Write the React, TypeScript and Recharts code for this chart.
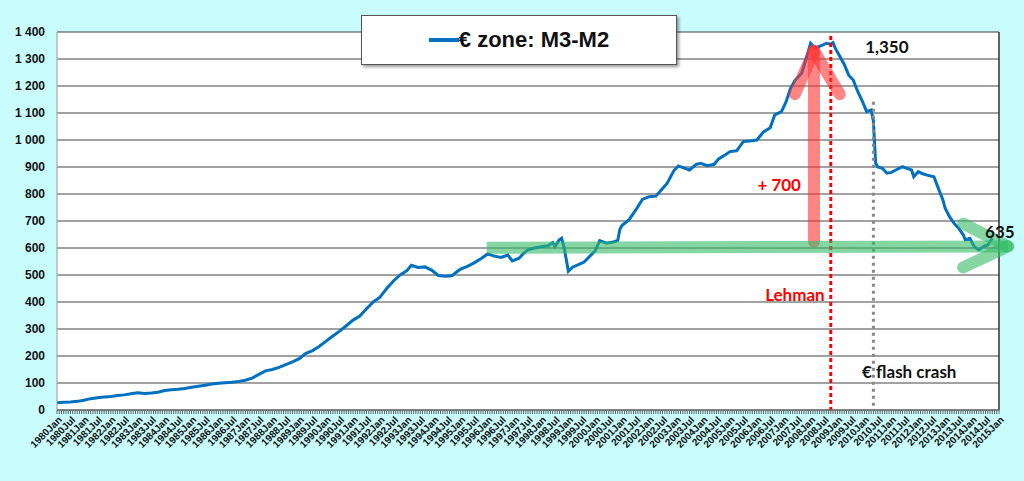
import React from 'react'
import { LineChart, Line, XAxis, YAxis, CartesianGrid, ReferenceLine, ReferenceDot } from 'recharts'

const obsDates = [
  '1980-01', '1980-04', '1980-07', '1980-10', '1981-01', '1981-04', '1981-07', '1981-10',
  '1982-01', '1982-04', '1982-07', '1982-10', '1983-01', '1983-04', '1983-07', '1983-10',
  '1984-01', '1984-04', '1984-07', '1984-10', '1985-01', '1985-04', '1985-07', '1985-10',
  '1986-01', '1986-04', '1986-07', '1986-10', '1987-01', '1987-04', '1987-07', '1987-10',
  '1988-01', '1988-04', '1988-07', '1988-10', '1989-01', '1989-04', '1989-07', '1989-10',
  '1990-01', '1990-04', '1990-07', '1990-10', '1991-01', '1991-04', '1991-07', '1991-10',
  '1992-01', '1992-04', '1992-07', '1992-10', '1993-01', '1993-03', '1993-06', '1993-09',
  '1993-12', '1994-03', '1994-06', '1994-09', '1994-11', '1995-01', '1995-04', '1995-07',
  '1995-10', '1996-01', '1996-04', '1996-07', '1996-10', '1996-12', '1997-03', '1997-05',
  '1997-07', '1997-10', '1998-01', '1998-04', '1998-06', '1998-07', '1998-09', '1998-10',
  '1998-11', '1998-12', '1999-01', '1999-03', '1999-05', '1999-08', '1999-10', '2000-01',
  '2000-03', '2000-06', '2000-09', '2000-11', '2000-12', '2001-01', '2001-04', '2001-07',
  '2001-10', '2002-01', '2002-04', '2002-07', '2002-09', '2002-12', '2003-02', '2003-05',
  '2003-07', '2003-10', '2003-12', '2004-03', '2004-06', '2004-08', '2004-11', '2005-01',
  '2005-04', '2005-07', '2005-10', '2006-01', '2006-04', '2006-07', '2006-09', '2006-12',
  '2007-02', '2007-04', '2007-06', '2007-09', '2007-11', '2008-01', '2008-03', '2008-06',
  '2008-08', '2008-10', '2008-11', '2008-12', '2009-02', '2009-04', '2009-06', '2009-08',
  '2009-10', '2009-12', '2010-02', '2010-04', '2010-05', '2010-06', '2010-07', '2010-09',
  '2010-11', '2011-01', '2011-03', '2011-06', '2011-08', '2011-10', '2011-11', '2012-01',
  '2012-03', '2012-05', '2012-08', '2012-10', '2012-12', '2013-01', '2013-03', '2013-05',
  '2013-07', '2013-09', '2013-10', '2013-12', '2014-02', '2014-04', '2014-06', '2014-08',
  '2014-10',
]

const m3m2 = [
  27, 29, 30, 32, 36, 42, 45, 48,
  50, 54, 56, 60, 64, 61, 63, 66,
  72, 75, 77, 80, 84, 88, 92, 96,
  99, 101, 103, 106, 110, 118, 132, 145,
  150, 158, 168, 178, 190, 210, 220, 236,
  255, 274, 292, 312, 333, 348, 375, 400,
  418, 450, 478, 500, 516, 536, 528, 530,
  518, 498, 495, 497, 510, 522, 532, 545,
  560, 578, 570, 565, 574, 552, 562, 580,
  593, 600, 605, 608, 620, 606, 630, 636,
  605, 560, 514, 530, 537, 548, 565, 590,
  627, 618, 622, 628, 670, 684, 704, 740,
  780, 790, 792, 820, 839, 886, 904, 895,
  889, 910, 914, 905, 910, 930, 945, 957,
  960, 994, 996, 1000, 1030, 1045, 1093, 1105,
  1140, 1190, 1220, 1247, 1300, 1358, 1340, 1350,
  1358, 1355, 1360, 1340, 1310, 1280, 1240, 1222,
  1180, 1145, 1105, 1111, 1070, 914, 900, 895,
  877, 880, 889, 901, 895, 889, 864, 883,
  875, 870, 864, 820, 778, 747, 715, 691,
  673, 650, 630, 636, 605, 593, 605, 611,
  636,
]

const firstYear = 1980
const lastYear = 2015
const halfNames = ['Jan', 'Jul']
const yTicks = [0, 100, 200, 300, 400, 500, 600, 700, 800, 900, 1000, 1100, 1200, 1300, 1400]

const toMonth = (d: string) => {
  const [y, m] = d.split('-').map(Number)
  return (y - firstYear) * 12 + (m - 1)
}

const data = obsDates.map((d, i) => ({ m: toMonth(d), v: m3m2[i] }))
const lastMonth = (lastYear - firstYear) * 12
const monthTicks = Array.from({ length: lastMonth + 1 }, (_, i) => i)
const tickLabel = (m: number) => `${firstYear + Math.floor(m / 12)}${halfNames[(m % 12) / 6]}`

const BLUE = '#0070c0'
const BG = '#c9fcfd'
const AXIS_FONT = '"Liberation Sans", Arial, sans-serif'
const NOTE_FONT = 'Lato, "Liberation Sans", sans-serif'

const fmtY = (v: number) =>
  v >= 1000 ? `${Math.floor(v / 1000)} ${String(v % 1000).padStart(3, '0')}` : String(v)

const XTick = (props: any) => {
  const { x, y, payload } = props
  if (payload.value % 6 !== 0) return null
  return (
    <text
      x={x + 3}
      y={y + 2}
      transform={`rotate(-45, ${x + 3}, ${y + 2})`}
      textAnchor="end"
      dy="0.35em"
      fontSize={10}
      fontWeight="bold"
      fontFamily={AXIS_FONT}
      fill="#111"
    >
      {tickLabel(payload.value)}
    </text>
  )
}

const note = (text: string, color: string, size = 17) => ({
  content: (p: any) => {
    const vb = p.viewBox || {}
    const cx = (vb.x || 0) + (vb.width || 0) / 2
    const cy = (vb.y || 0) + (vb.height || 0) / 2
    return (
      <text x={cx} y={cy} dy="0.35em" textAnchor="middle" fontSize={size} fontWeight="bold" fontFamily={NOTE_FONT} fill={color}>
        {text}
      </text>
    )
  },
})

const RED_ARROW = { stroke: '#ff3333', strokeOpacity: 0.6, strokeWidth: 12, strokeLinecap: 'round' as const }
const GREEN_ARROW = { stroke: '#33bb66', strokeOpacity: 0.6, strokeWidth: 12, strokeLinecap: 'round' as const }

export default function App() {
  return (
    <div style={{ position: 'absolute', left: 0, top: 0, width: 1024, height: 481, background: BG }}>
      <LineChart width={1024} height={481} data={data} margin={{ top: 32, right: 25, bottom: 0, left: 0 }}>
        <CartesianGrid vertical={false} stroke="#444" fill="#fff" fillOpacity={1} />
        <XAxis
          dataKey="m"
          type="number"
          domain={[0, lastMonth]}
          ticks={monthTicks}
          interval={0}
          height={71}
          tickSize={4}
          tickMargin={2}
          stroke="#666"
          tick={<XTick />}
        />
        <YAxis
          domain={[0, 1400]}
          ticks={yTicks}
          width={57}
          tickSize={0}
          tickMargin={12}
          stroke="#999"
          tickFormatter={fmtY}
          tick={{ fontSize: 12, fontWeight: 'bold', fontFamily: AXIS_FONT, fill: '#111' }}
        />
        <ReferenceLine x={lastMonth} stroke="#333" strokeWidth={1.5} />

        <Line type="linear" dataKey="v" stroke={BLUE} strokeWidth={3} dot={false} isAnimationActive={false} />

        {/* Lehman and flash crash markers */}
        <ReferenceLine segment={[{ x: 345, y: 1385 }, { x: 345, y: 0 }]} stroke="#ff0000" strokeWidth={3} strokeDasharray="4 3" />
        <ReferenceLine segment={[{ x: 364, y: 1142 }, { x: 364, y: 0 }]} stroke="#888" strokeWidth={3} strokeDasharray="3 4" />

        {/* red "+700" arrow */}
        <ReferenceLine segment={[{ x: 337.5, y: 623 }, { x: 337.5, y: 1330 }]} {...RED_ARROW} />
        <ReferenceLine segment={[{ x: 337.5, y: 1330 }, { x: 329, y: 1170 }]} {...RED_ARROW} />
        <ReferenceLine segment={[{ x: 337.5, y: 1330 }, { x: 349, y: 1170 }]} {...RED_ARROW} />

        {/* green level arrow */}
        <ReferenceLine segment={[{ x: 191.6, y: 601 }, { x: 424, y: 606 }]} ifOverflow="visible" {...GREEN_ARROW} strokeLinecap="butt" />
        <ReferenceLine segment={[{ x: 424, y: 606 }, { x: 404, y: 690 }]} ifOverflow="visible" {...GREEN_ARROW} />
        <ReferenceLine segment={[{ x: 424, y: 606 }, { x: 404, y: 528 }]} ifOverflow="visible" {...GREEN_ARROW} />

        <ReferenceDot x={370} y={1344} r={0} fill="none" stroke="none" label={note('1,350', '#111')} />
        <ReferenceDot x={322} y={833} r={0} fill="none" stroke="none" label={note('+ 700', '#ff0000')} />
        <ReferenceDot x={420.4} y={659} r={0} fill="none" stroke="none" ifOverflow="visible" label={note('635', '#111')} />
        <ReferenceDot x={329} y={426} r={0} fill="none" stroke="none" label={note('Lehman', '#ff0000')} />
        <ReferenceDot x={380} y={141} r={0} fill="none" stroke="none" label={note('€ flash crash', '#111')} />
      </LineChart>

      <div
        style={{
          position: 'absolute',
          left: 361,
          top: 15,
          width: 314,
          height: 48,
          background: '#fff',
          border: '1px solid #555',
          boxShadow: '2px 2px 3px rgba(0,0,0,0.4)',
          display: 'flex',
          alignItems: 'center',
          justifyContent: 'center',
        }}
      >
        <span style={{ display: 'inline-block', width: 30, height: 4, background: BLUE }} />
        <span style={{ fontFamily: AXIS_FONT, fontWeight: 'bold', fontSize: 22, color: '#111', lineHeight: '48px' }}>
          € zone: M3-M2
        </span>
      </div>
    </div>
  )
}
